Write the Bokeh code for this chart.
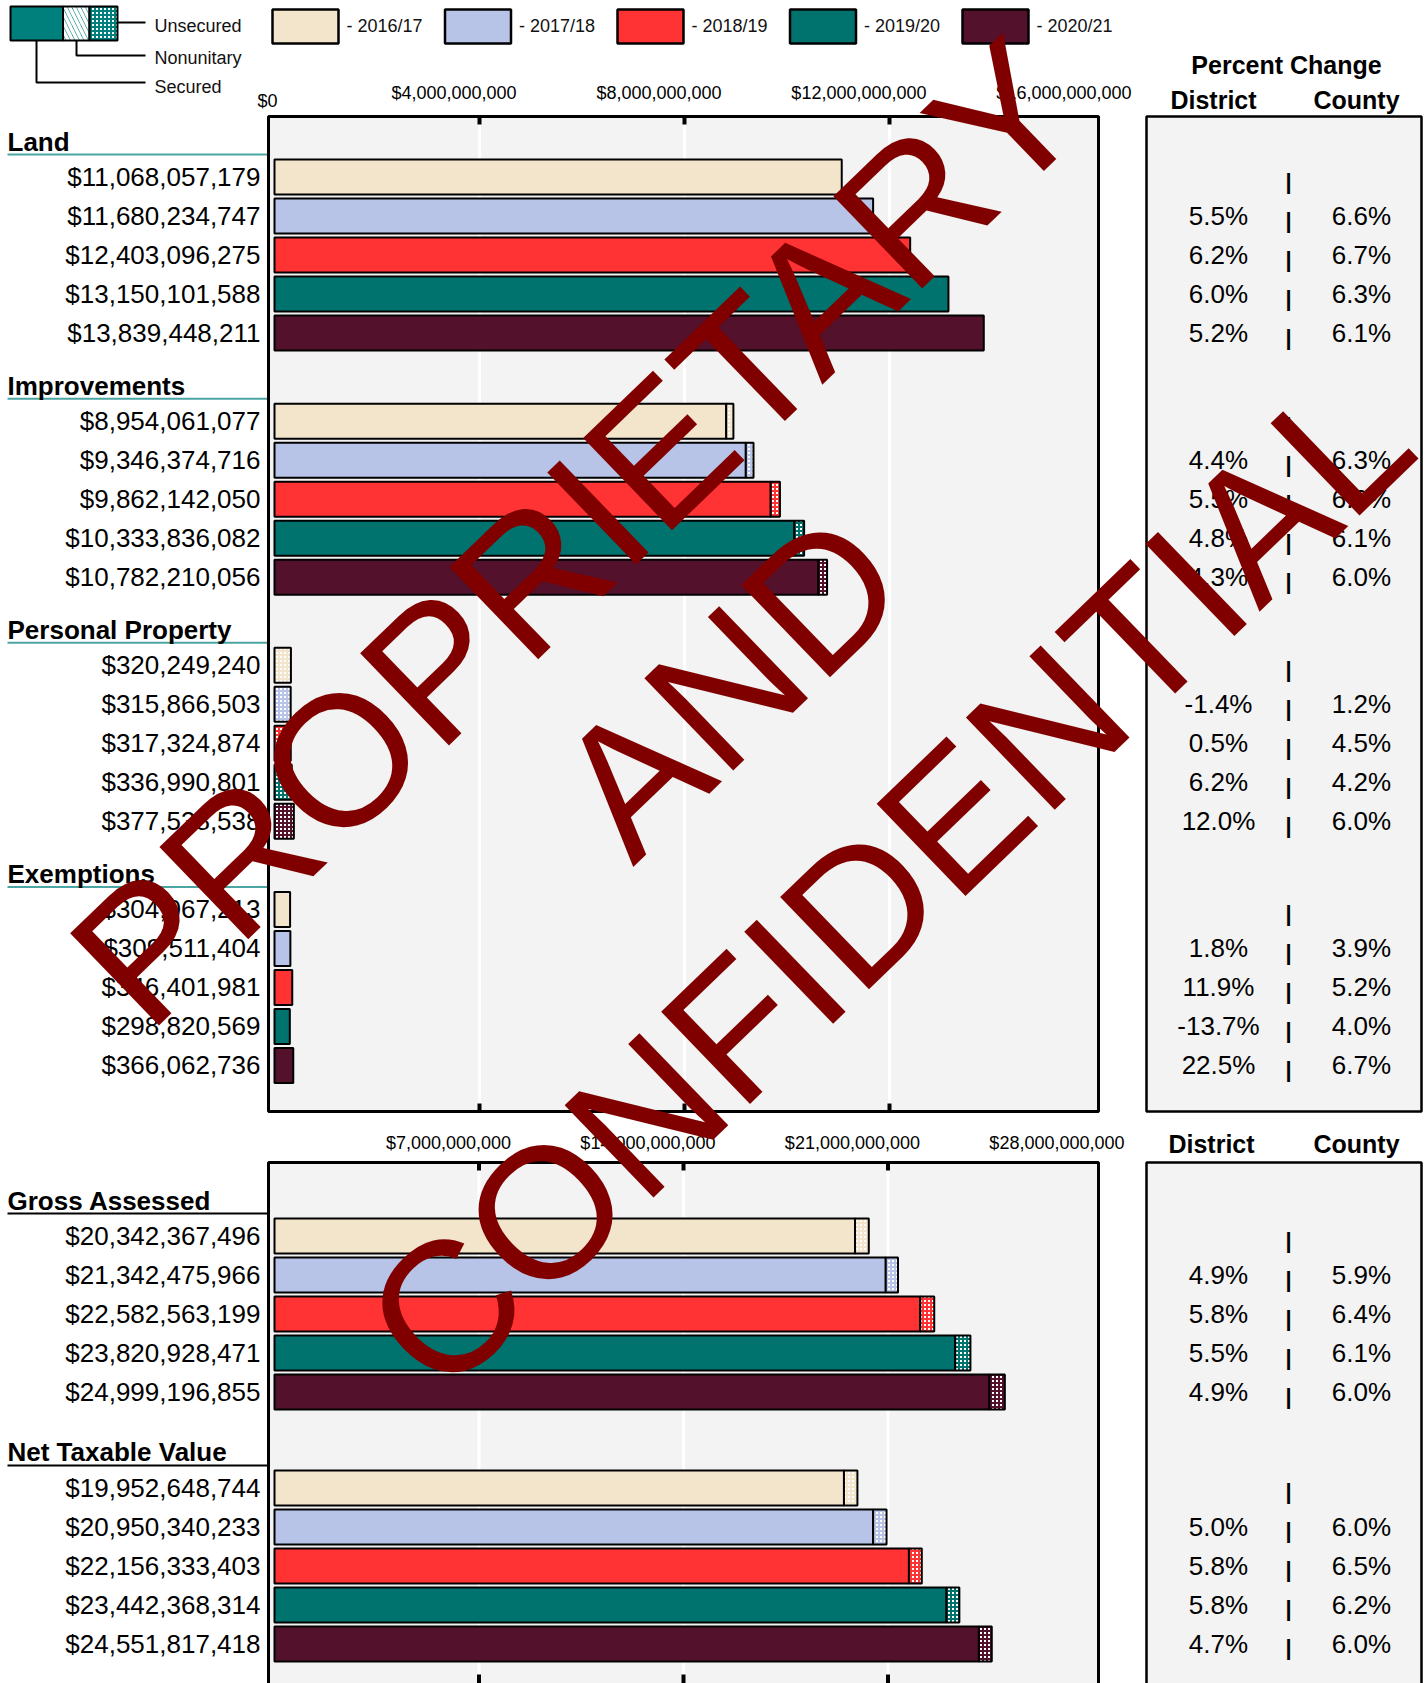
from bokeh.plotting import figure
from bokeh.models import Range1d, ColumnDataSource
from bokeh.embed import file_html
from bokeh.resources import INLINE
from bokeh.core.properties import value

# ---------------- data ----------------
years = ["2016/17", "2017/18", "2018/19", "2019/20", "2020/21"]
year_colors = ["#F3E5CB", "#B7C4E7", "#FF3333", "#00736F", "#53112C"]

top_groups = ["Land", "Improvements", "Personal Property", "Exemptions"]
land_total = [11068057179, 11680234747, 12403096275, 13150101588, 13839448211]
impr_total = [8954061077, 9346374716, 9862142050, 10333836082, 10782210056]
pp_total = [320249240, 315866503, 317324874, 336990801, 377538538]
exempt_total = [304067213, 309511404, 346401981, 298820569, 366062736]

land_unsec = [0, 0, 0, 0, 0]
impr_unsec = [140e6, 150e6, 180e6, 190e6, 170e6]
pp_unsec = [320249240, 315866503, 317324874, 336990801, 377538538]
exempt_unsec = [0, 0, 0, 0, 0]
nonunitary = [0, 0, 0, 0, 0]

bot_groups = ["Gross Assessed", "Net Taxable Value"]
gross_total = [20342367496, 21342475966, 22582563199, 23820928471, 24999196855]
net_total = [19952648744, 20950340233, 22156333403, 23442368314, 24551817418]
gross_unsec = [470e6, 420e6, 480e6, 520e6, 530e6]
net_unsec = [460e6, 460e6, 440e6, 440e6, 440e6]

land_district = [None, 5.5, 6.2, 6.0, 5.2]
land_county = [None, 6.6, 6.7, 6.3, 6.1]
impr_district = [None, 4.4, 5.5, 4.8, 4.3]
impr_county = [None, 6.3, 6.3, 6.1, 6.0]
pp_district = [None, -1.4, 0.5, 6.2, 12.0]
pp_county = [None, 1.2, 4.5, 4.2, 6.0]
ex_district = [None, 1.8, 11.9, -13.7, 22.5]
ex_county = [None, 3.9, 5.2, 4.0, 6.7]
gross_district = [None, 4.9, 5.8, 5.5, 4.9]
gross_county = [None, 5.9, 6.4, 6.1, 6.0]
net_district = [None, 5.0, 5.8, 5.8, 4.7]
net_county = [None, 6.0, 6.5, 6.2, 6.0]

top_ticks = [0, 4e9, 8e9, 12e9, 16e9]
bot_ticks = [7e9, 14e9, 21e9, 28e9]

watermark = ["PROPRIETARY", "AND", "CONFIDENTIAL"]

# ---------------- layout ----------------
FONT = value("Liberation Sans")
W, H = 1428, 1683
M = 0
ZERO_PX = 274
k_top = 16e9 / 820.0
k_bot = 28e9 / 818.0
PITCH = 39.0
TOP_ROW0 = 176.5
BOT_ROW0 = 1235.5
TOP_STEP = 6.26
BOT_STEP = 6.46

p = figure(width=W, height=H, x_range=Range1d(M, M + W), y_range=Range1d(M + H, M),
           output_backend="svg", toolbar_location=None, min_border=0,
           x_axis_location=None, y_axis_location=None)
p.grid.visible = False
p.outline_line_color = None
p.background_fill_color = "white"
p.border_fill_color = "white"

p.extra_x_ranges = {
    "top": Range1d(-(ZERO_PX - M) * k_top, (M + W - ZERO_PX) * k_top),
    "bot": Range1d(-(ZERO_PX - M) * k_bot, (M + W - ZERO_PX) * k_bot),
}
p.extra_y_ranges = {
    "rtop": Range1d((M + H - TOP_ROW0) / PITCH, (M - TOP_ROW0) / PITCH),
    "rbot": Range1d((M + H - BOT_ROW0) / PITCH, (M - BOT_ROW0) / PITCH),
}

BG = "#F3F3F3"
# panel backgrounds
boxes = dict(left=[268, 1146, 268, 1146], right=[1098, 1421, 1098, 1421],
             top=[116, 116, 1162, 1162], bottom=[1111, 1111, 1700, 1700])
p.quad(source=ColumnDataSource(boxes), left="left", right="right", top="top", bottom="bottom",
       fill_color=BG, line_color=None)

# gridlines
for ticks, rname, y0, y1 in [(top_ticks[1:-1], "top", 116, 1111), (bot_ticks[:-1], "bot", 1162, 1700)]:
    p.segment(x0=ticks, x1=ticks, y0=[y0] * len(ticks), y1=[y1] * len(ticks),
              x_range_name=rname, line_color="white", line_width=3)

BAR_H = 35.0 / PITCH


def draw_bars(totals, unsec, nonu, g, step, xr, yr):
    rows = [g * step + i for i in range(len(totals))]
    sec = [t - u - n for t, u, n in zip(totals, unsec, nonu)]
    d = dict(y=[], l=[], r=[], c=[])
    for i in range(len(totals)):
        if sec[i] > 0:
            d["y"].append(rows[i]); d["l"].append(0); d["r"].append(sec[i]); d["c"].append(year_colors[i])
    p.hbar(source=ColumnDataSource(d), y="y", left="l", right="r", height=BAR_H, fill_color="c",
           line_color="black", line_width=2, x_range_name=xr, y_range_name=yr)
    d = dict(y=[], l=[], r=[], c=[])
    for i in range(len(totals)):
        if nonu[i] > 0:
            d["y"].append(rows[i]); d["l"].append(sec[i]); d["r"].append(sec[i] + nonu[i]); d["c"].append(year_colors[i])
    if d["y"]:
        p.hbar(source=ColumnDataSource(d), y="y", left="l", right="r", height=BAR_H, fill_color="c",
               hatch_color="white", hatch_pattern="left_diagonal_line", hatch_scale=8, hatch_weight=3,
               line_color="black", line_width=2, x_range_name=xr, y_range_name=yr)
    d = dict(y=[], l=[], r=[], c=[])
    for i in range(len(totals)):
        if unsec[i] > 0:
            d["y"].append(rows[i]); d["l"].append(sec[i] + nonu[i]); d["r"].append(totals[i]); d["c"].append(year_colors[i])
    if d["y"]:
        p.hbar(source=ColumnDataSource(d), y="y", left="l", right="r", height=BAR_H, fill_color="white",
               hatch_color="c", hatch_pattern="+", hatch_scale=4, hatch_weight=2,
               line_color="black", line_width=2, x_range_name=xr, y_range_name=yr)
    return rows


def draw_labels(totals, rows, yr):
    p.text(x=[260] * len(rows), y=rows, text=[f"${v:,.0f}" for v in totals], y_range_name=yr,
           text_font=FONT, text_font_size="26px", text_align="right", text_baseline="middle",
           text_color="black")


def draw_header(name, g, step, yr, line_color):
    y0 = g * step - 22.5 / PITCH
    p.segment(x0=[7], x1=[269], y0=[y0], y1=[y0], y_range_name=yr, line_color=line_color, line_width=2)
    p.text(x=[7], y=[y0], y_offset=-13, text=[name], y_range_name=yr, text_font=FONT,
           text_font_size="26px", text_font_style="bold", text_align="left",
           text_baseline="middle", text_color="black")


def draw_pct(dist, cnty, rows, yr):
    ds = [("" if v is None else f"{v:.1f}%") for v in dist]
    cs = [("" if v is None else f"{v:.1f}%") for v in cnty]
    p.text(x=[1218] * len(rows), y=rows, text=ds, y_range_name=yr, text_font=FONT,
           text_font_size="26px", text_align="center", text_baseline="middle", text_color="black")
    p.text(x=[1361] * len(rows), y=rows, text=cs, y_range_name=yr, text_font=FONT,
           text_font_size="26px", text_align="center", text_baseline="middle", text_color="black")
    p.text(x=[1288] * len(rows), y=rows, y_offset=4, text=["|"] * len(rows), y_range_name=yr,
           text_font=FONT, text_font_size="22px", text_font_style="bold", text_align="center",
           text_baseline="middle", text_color="black")


top_data = [(land_total, land_unsec, land_district, land_county),
            (impr_total, impr_unsec, impr_district, impr_county),
            (pp_total, pp_unsec, pp_district, pp_county),
            (exempt_total, exempt_unsec, ex_district, ex_county)]
for g, (name, (tot, uns, dd, cc)) in enumerate(zip(top_groups, top_data)):
    rows = draw_bars(tot, uns, nonunitary, g, TOP_STEP, "top", "rtop")
    draw_labels(tot, rows, "rtop")
    draw_header(name, g, TOP_STEP, "rtop", "#4BA5A2")
    draw_pct(dd, cc, rows, "rtop")

bot_data = [(gross_total, gross_unsec, gross_district, gross_county),
            (net_total, net_unsec, net_district, net_county)]
for g, (name, (tot, uns, dd, cc)) in enumerate(zip(bot_groups, bot_data)):
    rows = draw_bars(tot, uns, nonunitary, g, BOT_STEP, "bot", "rbot")
    draw_labels(tot, rows, "rbot")
    draw_header(name, g, BOT_STEP, "rbot", "black")
    draw_pct(dd, cc, rows, "rbot")

# panel borders
p.quad(left=[268, 268], right=[1098, 1098], top=[116, 1162], bottom=[1111, 1700],
       fill_color=None, line_color="black", line_width=3)
p.quad(left=[1146, 1146], right=[1421, 1421], top=[116, 1162], bottom=[1111, 1700],
       fill_color=None, line_color="black", line_width=2.5)

# tick marks (inner)
tt = top_ticks[1:-1]
p.segment(x0=tt, x1=tt, y0=[116] * len(tt), y1=[124] * len(tt), x_range_name="top", line_color="black", line_width=4)
p.segment(x0=tt, x1=tt, y0=[1103] * len(tt), y1=[1111] * len(tt), x_range_name="top", line_color="black", line_width=4)
bt = bot_ticks[:-1]
p.segment(x0=bt, x1=bt, y0=[1162] * len(bt), y1=[1170] * len(bt), x_range_name="bot", line_color="black", line_width=4)
p.segment(x0=bt, x1=bt, y0=[1674] * len(bt), y1=[1700] * len(bt), x_range_name="bot", line_color="black", line_width=4)

# tick labels
p.text(x=top_ticks[1:], y=[92] * (len(top_ticks) - 1), x_offset=37,
       text=[f"${v:,.0f}" for v in top_ticks[1:]], x_range_name="top", text_font=FONT,
       text_font_size="18px", text_align="right", text_baseline="middle", text_color="black")
p.text(x=top_ticks[:1], y=[100], x_offset=3, text=[f"${v:,.0f}" for v in top_ticks[:1]],
       x_range_name="top", text_font=FONT, text_font_size="18px", text_align="right",
       text_baseline="middle", text_color="black")
p.text(x=bot_ticks, y=[1142] * len(bot_ticks), x_offset=32,
       text=[f"${v:,.0f}" for v in bot_ticks], x_range_name="bot", text_font=FONT,
       text_font_size="18px", text_align="right", text_baseline="middle", text_color="black")

# right table headers
p.text(x=[1286, 1213, 1356, 1211, 1356], y=[64, 99, 99, 1143, 1143],
       text=["Percent Change", "District", "County", "District", "County"], text_font=FONT,
       text_font_size="25px", text_font_style="bold", text_align="center", text_baseline="middle",
       text_color="black")

# segment-type legend
TEAL = "#00807C"
p.quad(left=[10], right=[62.5], top=[6], bottom=[40], fill_color=TEAL, line_color="black", line_width=2)
p.quad(left=[62.5], right=[89], top=[6], bottom=[40], fill_color=TEAL, hatch_color="white",
       hatch_pattern="left_diagonal_line", hatch_scale=9, hatch_weight=3.5, line_color="black", line_width=2)
p.quad(left=[89], right=[117], top=[6], bottom=[40], fill_color="white", hatch_color=TEAL,
       hatch_pattern="+", hatch_scale=4, hatch_weight=2, line_color="black", line_width=2)
p.multi_line(xs=[[117, 145], [76, 76, 145], [36, 36, 145]], ys=[[22, 22], [40, 55, 55], [40, 82, 82]],
             line_color="black", line_width=2)
p.text(x=[154, 154, 154], y=[25, 57, 86], text=["Unsecured", "Nonunitary", "Secured"], text_font=FONT,
       text_font_size="18px", text_align="left", text_baseline="middle", text_color="#111111")

# year legend
lx = [272 + 172.5 * i for i in range(len(years))]
p.quad(left=lx, right=[x + 66 for x in lx], top=[9] * len(lx), bottom=[43] * len(lx),
       fill_color=year_colors, line_color="black", line_width=2.5)
p.text(x=[x + 74 for x in lx], y=[25] * len(lx), text=[f"- {y}" for y in years], text_font=FONT,
       text_font_size="18px", text_align="left", text_baseline="middle", text_color="#111111")

# watermark
p.text(x=[576, 729, 887], y=[532, 684, 881], text=watermark, angle=0.768, text_font=FONT,
       text_font_size="186px", text_align="center", text_baseline="middle", text_color="#800000")

open("out.html", "w").write(file_html(p, INLINE))
